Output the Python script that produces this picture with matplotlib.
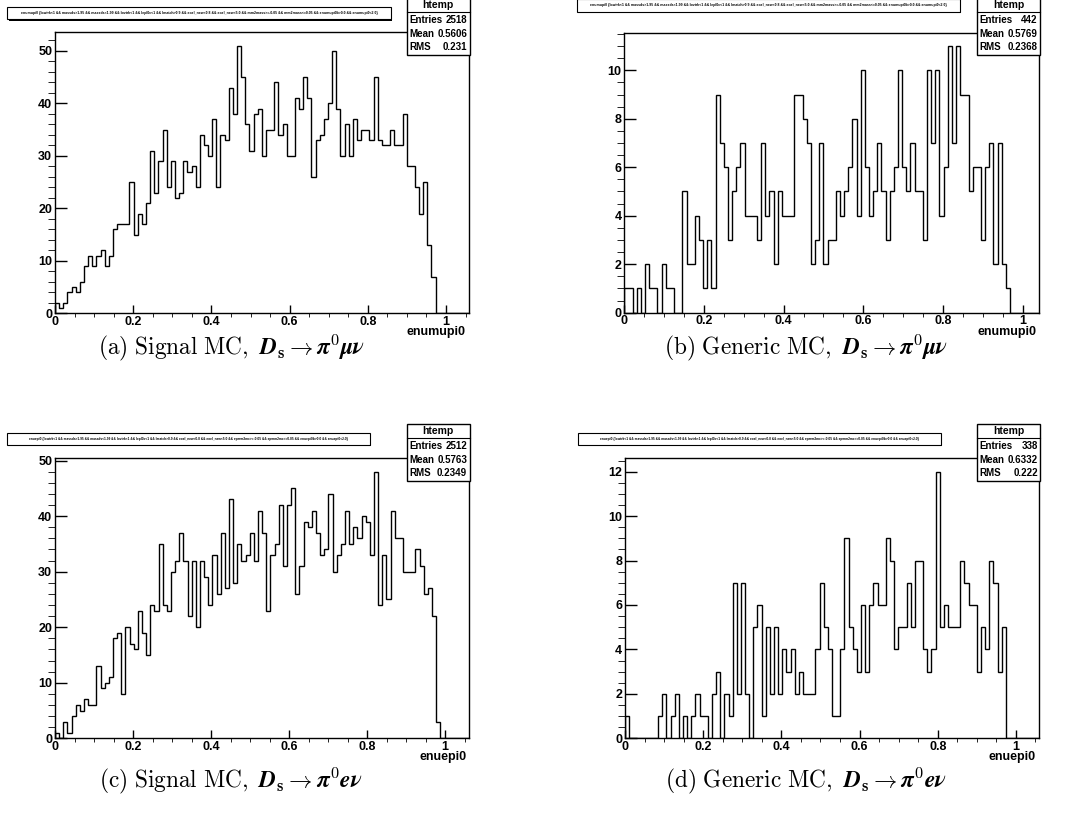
import numpy as np
import matplotlib.pyplot as plt
from matplotlib.patches import Rectangle
from matplotlib.ticker import MultipleLocator, FuncFormatter

plt.rcParams['mathtext.fontset'] = 'cm'
plt.rcParams['font.family'] = ['Liberation Sans', 'DejaVu Sans']
plt.rcParams['font.weight'] = 'bold'

# bin contents, 100 bins per histogram (empty bins at the end left out)
sig_mu = [2, 1, 2, 4, 5, 4, 6, 9, 11, 9,
          11, 12, 9, 11, 16, 17, 17, 17, 25, 15,
          19, 17, 21, 31, 23, 29, 35, 24, 29, 22,
          23, 29, 27, 28, 24, 34, 32, 30, 37, 24,
          34, 33, 43, 38, 51, 45, 36, 31, 38, 39,
          30, 35, 35, 44, 34, 36, 30, 30, 41, 39,
          45, 41, 26, 33, 34, 37, 40, 50, 39, 30,
          36, 30, 37, 33, 35, 35, 33, 45, 33, 32,
          32, 35, 32, 32, 38, 28, 28, 24, 19, 25,
          13, 7]
gen_mu = [1, 1, 0, 1, 0, 2, 1, 1, 0, 2,
          1, 1, 0, 0, 5, 2, 2, 4, 3, 1,
          3, 1, 9, 7, 6, 3, 5, 6, 7, 4,
          4, 4, 3, 7, 4, 5, 2, 5, 4, 4,
          4, 9, 9, 8, 7, 2, 3, 7, 2, 3,
          3, 5, 4, 5, 6, 8, 4, 10, 6, 4,
          5, 7, 5, 3, 5, 6, 10, 6, 5, 7,
          5, 5, 3, 10, 7, 10, 4, 6, 11, 7,
          11, 9, 9, 5, 6, 6, 3, 6, 7, 2,
          7, 2, 1]
sig_e = [1, 0, 3, 1, 4, 6, 5, 7, 6, 6,
         13, 9, 10, 11, 18, 19, 8, 20, 17, 16,
         23, 19, 15, 24, 23, 35, 24, 23, 30, 32,
         37, 32, 22, 32, 20, 32, 29, 24, 33, 26,
         37, 27, 43, 28, 35, 32, 33, 37, 32, 41,
         37, 23, 33, 35, 42, 31, 42, 45, 26, 31,
         39, 38, 41, 37, 33, 34, 44, 30, 33, 35,
         41, 35, 38, 36, 40, 39, 33, 48, 24, 33,
         25, 41, 36, 36, 30, 30, 30, 34, 31, 26,
         27, 22, 3]
gen_e = [1, 0, 0, 0, 0, 0, 0, 0, 1, 2,
         0, 1, 2, 0, 1, 0, 1, 2, 1, 1,
         0, 2, 3, 0, 2, 1, 7, 2, 7, 2,
         0, 5, 6, 1, 5, 2, 5, 2, 4, 3,
         4, 2, 3, 2, 2, 2, 4, 7, 5, 4,
         1, 1, 4, 9, 5, 4, 3, 6, 3, 6,
         7, 6, 6, 9, 8, 4, 5, 5, 7, 5,
         8, 8, 4, 3, 4, 12, 5, 6, 5, 5,
         5, 8, 7, 6, 6, 3, 5, 4, 8, 7,
         3, 5]

x_max = [1.058, 1.041, 1.062, 1.059]
x_names = ['enumupi0', 'enumupi0', 'enuepi0', 'enuepi0']
entries = ['2518', '442', '2512', '338']
means = ['0.5606', '0.5769', '0.5763', '0.6332']
rms_vals = ['0.231', '0.2368', '0.2349', '0.222']
captions = [
    r'$\mathrm{(a)\ Signal\ MC,}\ \boldsymbol{D}_{\mathbf{s}}\rightarrow\boldsymbol{\pi}^{\boldsymbol{0}}\boldsymbol{\mu\nu}$',
    r'$\mathrm{(b)\ Generic\ MC,}\ \boldsymbol{D}_{\mathbf{s}}\rightarrow\boldsymbol{\pi}^{\boldsymbol{0}}\boldsymbol{\mu\nu}$',
    r'$\mathrm{(c)\ Signal\ MC,}\ \boldsymbol{D}_{\mathbf{s}}\rightarrow\boldsymbol{\pi}^{\boldsymbol{0}}\boldsymbol{e\nu}$',
    r'$\mathrm{(d)\ Generic\ MC,}\ \boldsymbol{D}_{\mathbf{s}}\rightarrow\boldsymbol{\pi}^{\boldsymbol{0}}\boldsymbol{e\nu}$',
]
cuts_mu = ('{lowtrk<1 && massds>1.95 && massds<1.99 && lovtrk<1 && lepl0c<1 && lmatch>0.9 && '
           'eoel_new<0.8 && eoel_new<5.0 && mm2mass>=-0.05 && mm2mass<=0.05 && enumupi0b>0.0 && enumupi0<2.0}')
cuts_e = ('{lowtrk<1 && massds>1.95 && massds<1.99 && lovtrk<1 && lepl0c<1 && lmatch>0.9 && '
          'eoel_new<0.8 && eoel_new<5.0 && epmm2mc>=-0.05 && epmm2mc<=0.05 && enuepi0b>0.0 && enuepi0<2.0}')
titles = ['enumupi0 ' + cuts_mu, 'enumupi0 ' + cuts_mu, 'enuepi0 ' + cuts_e, 'enuepi0 ' + cuts_e]

W, H = 1084, 826
fig = plt.figure(figsize=(W / 100, H / 100), dpi=100)


def fx(x):
    return x / W


def fy(y):
    return 1 - y / H


# frame boxes in pixels: left, top, right, bottom
frames = [(55, 32.3, 468.7, 313.3), (624.3, 32.7, 1039, 312.7),
          (55, 458.3, 469.3, 738.3), (625, 458.3, 1039, 738.3)]
title_boxes = [(7.3, 7.3, 390.7, 19.3), (577, -1, 960, 11.5),
               (7.3, 432.5, 370, 444.5), (578, 432.5, 941, 444.5)]
title_size = [2.5, 2.5, 2.35, 2.35]
stat_left = [406.7, 977.3, 406.7, 977.3]
stat_top = [-2, -2, 424, 424]
steps = [(10, 2), (2, 0.5), (10, 2), (2, 0.5)]

data = [sig_mu, gen_mu, sig_e, gen_e]

for i in range(4):
    l, t, r, b = frames[i]
    ax = fig.add_axes([fx(l), fy(b), (r - l) / W, (b - t) / H])
    counts = np.zeros(100)
    counts[:len(data[i])] = data[i]
    edges = np.linspace(0, x_max[i], 101)
    ax.stairs(counts, edges, baseline=0, color='black', lw=1.0)
    ax.set_xlim(0, x_max[i])
    ax.set_ylim(0, 1.05 * counts.max())

    for s in ax.spines.values():
        s.set_linewidth(1.0)
    ax.xaxis.set_major_locator(MultipleLocator(0.2))
    ax.xaxis.set_minor_locator(MultipleLocator(0.05))
    ax.yaxis.set_major_locator(MultipleLocator(steps[i][0]))
    ax.yaxis.set_minor_locator(MultipleLocator(steps[i][1]))
    ax.xaxis.set_major_formatter(FuncFormatter(lambda v, p: '%g' % round(v, 2)))
    ax.yaxis.set_major_formatter(FuncFormatter(lambda v, p: '%g' % v))
    ax.tick_params(direction='in', top=False, right=False, labelsize=9, width=1.0)
    ax.tick_params(axis='x', which='major', length=6, pad=2)
    ax.tick_params(axis='x', which='minor', length=3)
    ax.tick_params(axis='y', which='major', length=8.4, pad=2)
    ax.tick_params(axis='y', which='minor', length=4.8)
    for lab in ax.get_xticklabels() + ax.get_yticklabels():
        lab.set_fontweight('bold')

    # x axis name under the right end
    fig.text(fx(r - 3), fy(b + 19), x_names[i], ha='right', va='center',
             fontsize=9, fontweight='bold')

    # cut string box (with shadow)
    tl, tt, tr, tb = title_boxes[i]
    fig.patches.append(Rectangle((fx(tl + 1.2), fy(tb + 1.2)), (tr - tl) / W, (tb - tt) / H,
                                 transform=fig.transFigure, facecolor='black',
                                 edgecolor='none', zorder=4))
    fig.patches.append(Rectangle((fx(tl), fy(tb)), (tr - tl) / W, (tb - tt) / H,
                                 transform=fig.transFigure, facecolor='white',
                                 edgecolor='black', lw=0.8, zorder=5))
    fig.text(fx((tl + tr) / 2), fy((tt + tb) / 2), titles[i], ha='center', va='center',
             fontsize=title_size[i], fontweight='bold', zorder=6)

    # statistics box
    sl, st = stat_left[i], stat_top[i]
    sr, sb = sl + 63, st + 57
    fig.patches.append(Rectangle((fx(sl), fy(sb)), (sr - sl) / W, (sb - st) / H,
                                 transform=fig.transFigure, facecolor='white',
                                 edgecolor='black', lw=1.0, zorder=5))
    fig.lines.append(plt.Line2D([fx(sl), fx(sr)], [fy(st + 14), fy(st + 14)],
                                transform=fig.transFigure, color='black', lw=0.8, zorder=6))
    fig.text(fx((sl + sr) / 2), fy(st + 7.5), 'htemp', ha='center', va='center',
             fontsize=7.5, fontweight='bold', zorder=6)
    rows = [('Entries', entries[i]), ('Mean', means[i]), ('RMS', rms_vals[i])]
    for k, (name, val) in enumerate(rows):
        yy = st + 22 + 13.7 * k
        fig.text(fx(sl + 2.5), fy(yy), name, ha='left', va='center',
                 fontsize=7, fontweight='bold', zorder=6)
        fig.text(fx(sr - 2.5), fy(yy), val, ha='right', va='center',
                 fontsize=7, fontweight='bold', zorder=6)

# sub-figure captions
cap_pos = [(231, 348), (806, 348), (231, 781), (806, 781)]
for i in range(4):
    fig.text(fx(cap_pos[i][0]), fy(cap_pos[i][1]), captions[i], ha='center', va='center',
             fontsize=16.8, fontweight='normal')

fig.savefig('out.png', dpi=100)
